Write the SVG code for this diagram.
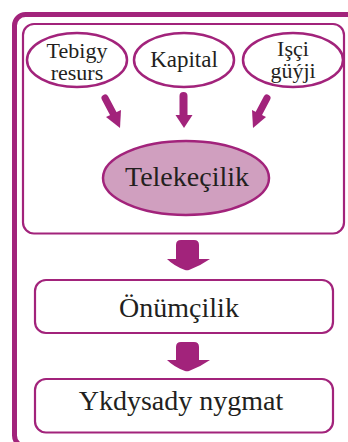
<svg xmlns="http://www.w3.org/2000/svg" width="348" height="442" viewBox="0 0 348 442">
<defs>
<style>
.frame{fill:none;stroke:#a2237b;stroke-width:2.2}
.ell{fill:#fff;stroke:#a2237b;stroke-width:2.5}
.t{font-family:"Liberation Serif","Times New Roman",serif;fill:#231f20;text-anchor:middle}
.arr{fill:#a2237b;stroke:none}
.ln{stroke:#a2237b;fill:none;stroke-linecap:round}
</style>
</defs>
<rect width="348" height="442" fill="#fff"/>
<g id="outer-frame">
<rect x="14.5" y="14.5" width="360" height="432" rx="11" fill="none" stroke="#a2237b" stroke-width="5"/>
</g>
<g id="group-box">
<rect class="frame" x="23" y="24" width="321" height="209.5" rx="11"/>
</g>
<g id="node-tebigy">
<ellipse class="ell" cx="77" cy="60" rx="50" ry="27"/>
<text class="t" x="77" y="58" font-size="22">Tebigy</text>
<text class="t" x="77" y="80" font-size="22">resurs</text>
</g>
<g id="node-kapital">
<ellipse class="ell" cx="184" cy="60" rx="50" ry="27"/>
<text class="t" x="184" y="67" font-size="23">Kapital</text>
</g>
<g id="node-isci">
<ellipse class="ell" cx="293" cy="60" rx="50" ry="27"/>
<text class="t" x="293" y="56" font-size="22">Işçi</text>
<text class="t" x="293" y="78" font-size="22">güýji</text>
</g>
<g id="node-telekecilik">
<ellipse cx="186" cy="178" rx="83" ry="37" fill="#d09fbf" stroke="#a2237b" stroke-width="2.5"/>
<text class="t" x="187" y="186" font-size="28">Telekeçilik</text>
</g>
<g id="node-onumcilik">
<rect class="frame" x="35" y="280" width="298" height="53" rx="11"/>
<text class="t" x="179" y="317" font-size="28">Önümçilik</text>
</g>
<g id="node-ykdysady">
<rect class="frame" x="35" y="379" width="298" height="53.5" rx="11"/>
<text class="t" x="181" y="410" font-size="28">Ykdysady nygmat</text>
</g>
<g id="connectors">
<line class="ln" x1="105" y1="98" x2="114" y2="115" stroke-width="7"/>
<polygon class="arr" points="106,117 121,110 120,128"/>
<line class="ln" x1="183.5" y1="96" x2="183.5" y2="116" stroke-width="8"/>
<polygon class="arr" points="175.5,115 192.5,115 184,128"/>
<line class="ln" x1="267" y1="98" x2="258" y2="115" stroke-width="7"/>
<polygon class="arr" points="252,110 266,117 253,128"/>
<path class="arr" d="M176,245 Q176,240 181,240 L194,240 Q199,240 199,245 L199,259 L210,259 Q200,266 189,270 Q187,270.5 185,270 Q174,266 167,259 L176,259 Z"/>
<path class="arr" d="M176,347 Q176,342 181,342 L194,342 Q199,342 199,347 L199,360 L210,360 Q200,367 189,371 Q187,371.5 185,371 Q174,367 167,360 L176,360 Z"/>
</g>
</svg>
